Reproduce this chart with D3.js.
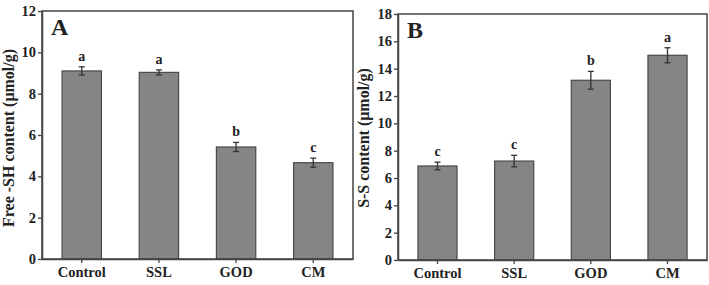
<!DOCTYPE html>
<html>
<head>
<meta charset="utf-8">
<script src="https://cdn.jsdelivr.net/npm/d3@7"></script>
<style>
  body { margin: 0; background: #fff; }
  text { font-family: "Liberation Serif", "Times New Roman", serif; font-weight: bold; fill: #222; }
</style>
</head>
<body>
<div id="chart"></div>
<script>
// Data
var groups = ["Control", "SSL", "GOD", "CM"];

var shValues = [9.1, 9.03, 5.42, 4.66];
var shErrors = [0.2, 0.12, 0.22, 0.22];
var shLetters = ["a", "a", "b", "c"];
var shTicks = [0, 2, 4, 6, 8, 10, 12];

var ssValues = [6.88, 7.24, 13.15, 14.98];
var ssErrors = [0.28, 0.42, 0.65, 0.55];
var ssLetters = ["c", "c", "b", "a"];
var ssTicks = [0, 2, 4, 6, 8, 10, 12, 14, 16, 18];

var svgWidth = 709;
var svgHeight = 285;

var svg = d3.select("#chart")
  .append("svg")
  .attr("width", svgWidth)
  .attr("height", svgHeight);

function drawPanel(opts) {
  var w = opts.right - opts.left;
  var h = opts.bottom - opts.top;

  var g = svg.append("g")
    .attr("transform", `translate(${opts.left}, ${opts.top})`);

  var xScale = d3.scaleBand()
    .domain(groups)
    .range([0, w])
    .paddingInner(0.49)
    .paddingOuter(0.26);

  var yScale = d3.scaleLinear()
    .domain([0, opts.max])
    .range([h, 0]);

  // bars
  g.selectAll(".bar")
    .data(opts.values)
    .enter()
    .append("rect")
    .attr("class", "bar")
    .attr("x", (d, i) => xScale(groups[i]))
    .attr("y", d => yScale(d))
    .attr("width", xScale.bandwidth())
    .attr("height", d => h - yScale(d))
    .attr("fill", "#858585")
    .attr("stroke", "#4a4a4a")
    .attr("stroke-width", 1.2);

  // error bars
  var cx = i => xScale(groups[i]) + xScale.bandwidth() / 2;
  opts.values.forEach(function(v, i) {
    var e = opts.errors[i];
    var eb = g.append("g").attr("stroke", "#333").attr("stroke-width", 1.3);
    eb.append("line").attr("x1", cx(i)).attr("x2", cx(i))
      .attr("y1", yScale(v - e)).attr("y2", yScale(v + e));
    eb.append("line").attr("x1", cx(i) - 3).attr("x2", cx(i) + 3)
      .attr("y1", yScale(v + e)).attr("y2", yScale(v + e));
    eb.append("line").attr("x1", cx(i) - 3).attr("x2", cx(i) + 3)
      .attr("y1", yScale(v - e)).attr("y2", yScale(v - e));
  });

  // significance letters
  g.selectAll(".letter")
    .data(opts.letters)
    .enter()
    .append("text")
    .attr("class", "letter")
    .attr("x", (d, i) => cx(i))
    .attr("y", (d, i) => yScale(opts.values[i] + opts.errors[i]) - 6)
    .attr("text-anchor", "middle")
    .style("font-size", "14px")
    .text(d => d);

  // frame
  g.append("rect")
    .attr("width", w)
    .attr("height", h)
    .attr("fill", "none")
    .attr("stroke", "#444")
    .attr("stroke-width", 1.5);

  var leftAxis = d3.axisLeft(yScale).tickValues(opts.ticks).tickSize(4).tickSizeOuter(0);
  var bottomAxis = d3.axisBottom(xScale).tickSize(4).tickSizeOuter(0);

  var ly = g.append("g").call(leftAxis);
  var bx = g.append("g").attr("transform", `translate(0, ${h})`).call(bottomAxis);

  [ly, bx].forEach(function(ax) {
    ax.select(".domain").attr("stroke", "#444").attr("stroke-width", 1.5);
    ax.selectAll(".tick line").attr("stroke", "#444").attr("stroke-width", 1.3);
    ax.selectAll(".tick text")
      .attr("fill", "#222")
      .style("font-family", "Liberation Serif, serif")
      .style("font-weight", "bold")
      .style("font-size", "14.5px");
  });
  ly.selectAll(".tick text").attr("x", -6);
  bx.selectAll(".tick text").attr("y", 8);

  // panel letter
  g.append("text")
    .attr("x", 9)
    .attr("y", 24)
    .style("font-size", "24px")
    .text(opts.panel);

  // y axis title
  g.append("text")
    .attr("transform", "rotate(-90)")
    .attr("x", -opts.titleMid)
    .attr("y", opts.titleX)
    .attr("text-anchor", "middle")
    .style("font-size", "16px")
    .text(opts.title);
}

drawPanel({
  left: 42, right: 353, top: 11, bottom: 259,
  max: 12, ticks: shTicks,
  values: shValues, errors: shErrors, letters: shLetters,
  panel: "A", title: "Free -SH content (\u03bcmol/g)", titleX: -28, titleMid: 127
});

drawPanel({
  left: 398, right: 707, top: 14, bottom: 260,
  max: 18, ticks: ssTicks,
  values: ssValues, errors: ssErrors, letters: ssLetters,
  panel: "B", title: "S-S content (\u03bcmol/g)", titleX: -29, titleMid: 124
});
</script>
</body>
</html>
